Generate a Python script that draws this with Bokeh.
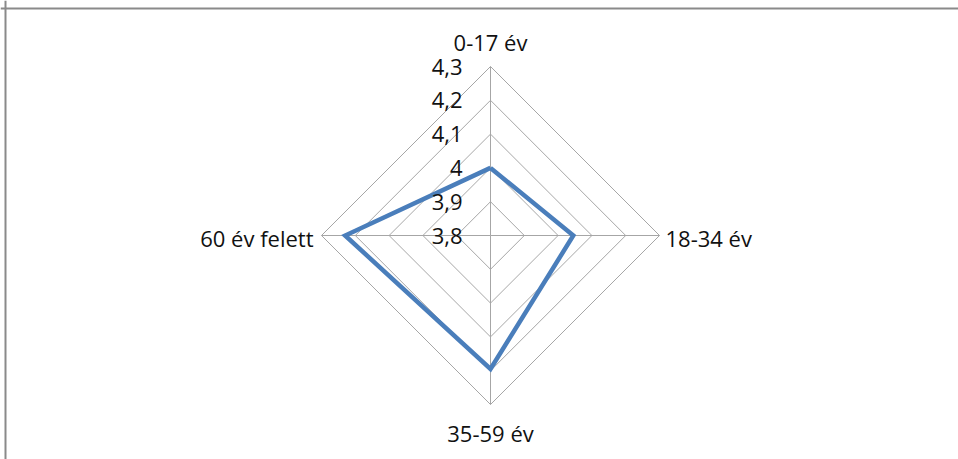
import numpy as np
from bokeh.plotting import figure
from bokeh.models import Range1d, Span
from bokeh.core.properties import value
from bokeh.embed import file_html
from bokeh.resources import INLINE

# ---- data ----
categories = ["0-17 év", "18-34 év", "35-59 év", "60 év felett"]
values = [4.0, 4.045, 4.195, 4.23]
ticks = [3.8, 3.9, 4.0, 4.1, 4.2, 4.3]
tick_labels = ["3,8", "3,9", "4", "4,1", "4,2", "4,3"]

# ---- layout ----
W, H = 958, 459
CX, CY = 490, 235          # centre of the radar in page pixels
R = 169.0                   # radius of outer ring (px units)
vmin, vmax = ticks[0], ticks[-1]
angles = np.deg2rad([90, 0, -90, 180])

def rad(v):
    return (np.asarray(v, dtype=float) - vmin) / (vmax - vmin) * R

p = figure(width=W, height=H, output_backend="svg", toolbar_location=None,
           x_range=Range1d(-CX, W - CX), y_range=Range1d(CY - H, CY),
           min_border=0, outline_line_color=None, background_fill_color="white",
           border_fill_color="white")
p.axis.visible = False
p.grid.visible = False

grid_col = "#a6a6a6"
# rings
for t in ticks[1:]:
    r = rad(t)
    xs = list(r * np.cos(angles)) + [r * np.cos(angles[0])]
    ys = list(r * np.sin(angles)) + [r * np.sin(angles[0])]
    p.line(xs, ys, line_color=grid_col, line_width=1)
# spokes
p.segment(x0=[0] * 4, y0=[0] * 4, x1=list(R * np.cos(angles)), y1=list(R * np.sin(angles)),
          line_color=grid_col, line_width=1)

# data line
rv = rad(values)
dx = list(rv * np.cos(angles)) + [rv[0] * np.cos(angles[0])]
dy = list(rv * np.sin(angles)) + [rv[0] * np.sin(angles[0])]
p.line(dx, dy, line_color="#4a7ebb", line_width=4.5, line_join="miter")

font = value("Open Sans")
fs = "22px"
# tick labels
p.text(x=[-28] * len(ticks), y=list(rad(ticks)), text=tick_labels, text_font=font,
       text_font_size=fs, text_align="right", text_baseline="middle", text_color="#111111")

# category labels
offs = [25, 6, 28, 8]
aligns = ["center", "left", "center", "right"]
for a, lab, o, al in zip(angles, categories, offs, aligns):
    x = (R + o) * np.cos(a)
    y = (R + o) * np.sin(a)
    if al != "center":
        y -= 2
    p.text(x=[x], y=[y], text=[lab], text_font=font, text_font_size=fs,
           text_align=al, text_baseline="middle", text_color="#111111")

# chart border (top & left)
p.add_layout(Span(location=CY - 8, dimension="width", line_color="#8a8a8a", line_width=2))
p.add_layout(Span(location=5 - CX, dimension="height", line_color="#8a8a8a", line_width=2))

open("out.html", "w").write(file_html(p, INLINE))
